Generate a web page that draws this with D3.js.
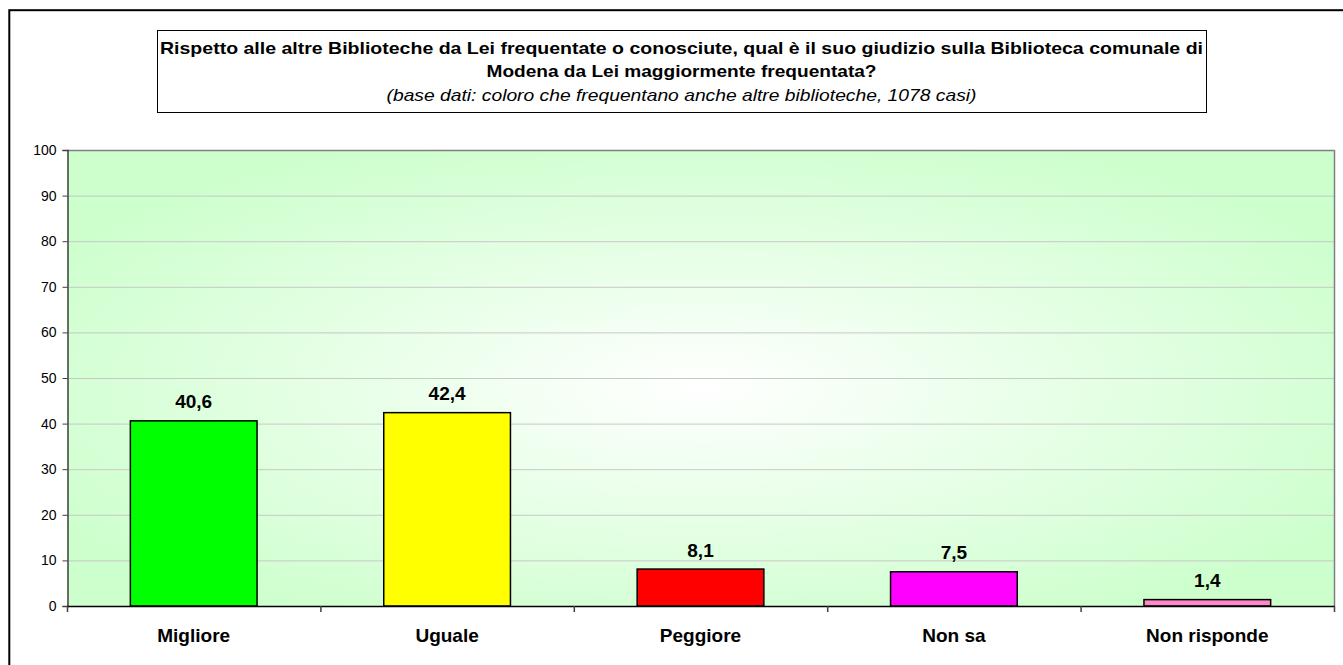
<!DOCTYPE html>
<html>
<head>
<meta charset="utf-8">
<script src="https://cdn.jsdelivr.net/npm/d3@7"></script>
<style>
html,body{margin:0;padding:0;background:#fff;}
svg{display:block;font-family:"Liberation Sans",Arial,sans-serif;}
</style>
</head>
<body>
<svg id="chart" width="1343" height="665"></svg>
<script>
const categories = ["Migliore", "Uguale", "Peggiore", "Non sa", "Non risponde"];
const values = [40.6, 42.4, 8.1, 7.5, 1.4];
const barColors = ["#00FF00", "#FFFF00", "#FF0000", "#FF00FF", "#FF88C8"];
const yTicks = [0, 10, 20, 30, 40, 50, 60, 70, 80, 90, 100];
const titleLines = [
  "Rispetto alle altre Biblioteche da Lei frequentate o conosciute, qual è il suo giudizio sulla Biblioteca comunale di",
  "Modena da Lei maggiormente frequentata?"
];
const subtitle = "(base dati: coloro che frequentano anche altre biblioteche, 1078 casi)";

const svg = d3.select("#chart");
const plot = {left: 67, right: 1334, top: 150, bottom: 606};

// outer frame
svg.append("rect").attr("x", 9.3).attr("y", 10.2).attr("width", 1345).attr("height", 670)
  .attr("fill", "#fff").attr("stroke", "#000").attr("stroke-width", 2);

// title box
svg.append("rect").attr("x", 157.5).attr("y", 30.5).attr("width", 1049).attr("height", 82)
  .attr("fill", "#fff").attr("stroke", "#000").attr("stroke-width", 1);
const cx = (157 + 1206) / 2;
svg.append("text").attr("x", cx).attr("y", 53.5).attr("text-anchor", "middle")
  .attr("font-size", 17).attr("font-weight", "bold")
  .attr("textLength", 1043).attr("lengthAdjust", "spacingAndGlyphs").text(titleLines[0]);
svg.append("text").attr("x", cx).attr("y", 77).attr("text-anchor", "middle")
  .attr("font-size", 17).attr("font-weight", "bold")
  .attr("textLength", 390).attr("lengthAdjust", "spacingAndGlyphs").text(titleLines[1]);
svg.append("text").attr("x", cx).attr("y", 100.5).attr("text-anchor", "middle")
  .attr("font-size", 17).attr("font-style", "italic")
  .attr("textLength", 590).attr("lengthAdjust", "spacingAndGlyphs").text(subtitle);

// gradient
const defs = svg.append("defs");
const grad = defs.append("radialGradient").attr("id", "bg")
  .attr("cx", "50%").attr("cy", "52%").attr("r", "60%");
grad.append("stop").attr("offset", "0%").attr("stop-color", "#FFFFFF");
grad.append("stop").attr("offset", "100%").attr("stop-color", "#CCFFCC");

const x = d3.scaleBand().domain(categories).range([plot.left, plot.right]).paddingInner(0.5).paddingOuter(0.25);
const xb = d3.scaleBand().domain(categories).range([plot.left, plot.right]);
const y = d3.scaleLinear().domain([0, 100]).range([plot.bottom, plot.top]);

svg.append("rect").attr("x", plot.left).attr("y", plot.top)
  .attr("width", plot.right - plot.left).attr("height", plot.bottom - plot.top)
  .attr("fill", "url(#bg)");

// gridlines
svg.append("g").selectAll("line").data(yTicks.filter(d => d > 0 && d < 100)).join("line")
  .attr("x1", plot.left).attr("x2", plot.right)
  .attr("y1", d => y(d) + 0.5).attr("y2", d => y(d) + 0.5)
  .attr("stroke", "#C8C8C8").attr("stroke-width", 1);

// plot border top and right
svg.append("line").attr("x1", plot.left).attr("x2", plot.right + 0.5)
  .attr("y1", plot.top + 0.5).attr("y2", plot.top + 0.5).attr("stroke", "#808080").attr("stroke-width", 1.5);
svg.append("line").attr("x1", plot.right + 0.5).attr("x2", plot.right + 0.5)
  .attr("y1", plot.top).attr("y2", plot.bottom).attr("stroke", "#808080").attr("stroke-width", 1.5);

// bars
svg.append("g").selectAll("rect").data(values).join("rect")
  .attr("x", (d, i) => x(categories[i]))
  .attr("y", d => y(d))
  .attr("width", x.bandwidth())
  .attr("height", d => y(0) - y(d))
  .attr("fill", (d, i) => barColors[i])
  .attr("stroke", "#000").attr("stroke-width", 1.5);

// value labels
svg.append("g").selectAll("text").data(values).join("text")
  .attr("x", (d, i) => x(categories[i]) + x.bandwidth() / 2)
  .attr("y", d => y(d) - 12.5)
  .attr("text-anchor", "middle").attr("font-size", 19).attr("font-weight", "bold")
  .text(d => d3.format(".1f")(d).replace(".", ","));

// y axis
const yAxis = svg.append("g").attr("transform", `translate(${plot.left + 0.5},0)`)
  .call(d3.axisLeft(y).tickValues(yTicks).tickSize(5).tickPadding(6));
yAxis.select(".domain").attr("stroke", "#404040").attr("stroke-width", 1.5);
yAxis.selectAll(".tick line").attr("stroke", "#404040");
yAxis.selectAll(".tick text").attr("font-size", 14).attr("fill", "#000")
  .attr("font-family", "Liberation Sans, Arial, sans-serif");

// x axis line and ticks
svg.append("line").attr("x1", plot.left).attr("x2", plot.right + 1)
  .attr("y1", plot.bottom + 0.5).attr("y2", plot.bottom + 0.5).attr("stroke", "#000").attr("stroke-width", 1.5);
const boundaries = categories.map(c => xb(c)).concat([plot.right]);
svg.append("g").selectAll("line").data(boundaries).join("line")
  .attr("x1", d => d + 0.5).attr("x2", d => d + 0.5)
  .attr("y1", plot.bottom).attr("y2", plot.bottom + 6)
  .attr("stroke", "#404040").attr("stroke-width", 1.5);

// category labels
svg.append("g").selectAll("text").data(categories).join("text")
  .attr("x", d => xb(d) + xb.bandwidth() / 2)
  .attr("y", 641.5)
  .attr("text-anchor", "middle").attr("font-size", 19).attr("font-weight", "bold")
  .text(d => d);
</script>
</body>
</html>
